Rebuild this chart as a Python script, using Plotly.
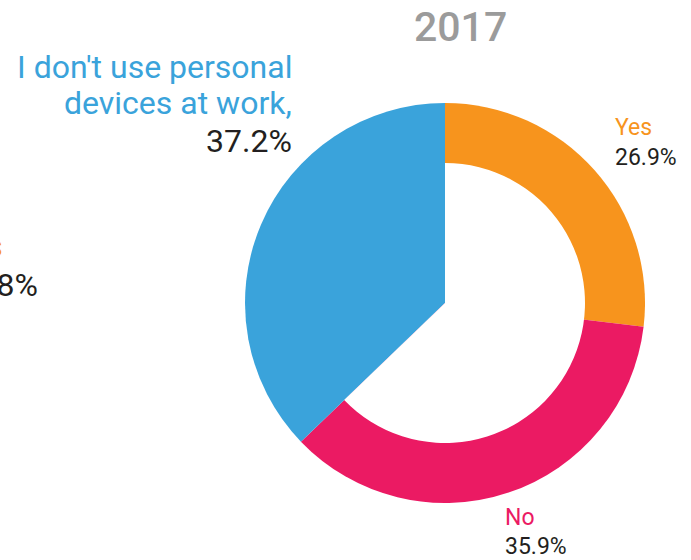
import plotly.graph_objects as go

W, H = 691, 560

categories = ["Yes", "No", "I don't use personal devices at work"]
values = [26.9, 35.9, 37.2]
colors = ["#F7941D", "#EB1A63", "#3AA3DB"]
title_text = "2017"

def px(x):
    return x / W

def py(y):
    return 1 - y / H

CX, CY, R_OUT, R_IN = 445, 303, 200, 140

fig = go.Figure()
# full pie
fig.add_trace(go.Pie(
    labels=categories,
    values=values,
    hole=0,
    sort=False,
    direction="clockwise",
    rotation=0,
    marker=dict(colors=colors, line=dict(width=0)),
    textinfo="none",
    hoverinfo="label+percent",
    showlegend=False,
    domain=dict(x=[px(CX - R_OUT), px(CX + R_OUT)], y=[py(CY + R_OUT), py(CY - R_OUT)]),
))
# inner white cut-out covering the Yes + No slices (blue slice stays solid)
fig.add_trace(go.Pie(
    labels=["cut", "keep"],
    values=[values[0] + values[1], values[2]],
    hole=0,
    sort=False,
    direction="clockwise",
    rotation=0,
    marker=dict(colors=["white", "rgba(0,0,0,0)"], line=dict(width=0)),
    textinfo="none",
    hoverinfo="skip",
    showlegend=False,
    domain=dict(x=[px(CX - R_IN), px(CX + R_IN)], y=[py(CY + R_IN), py(CY - R_IN)]),
))

FONT = "Roboto"
dark = "#231F20"
ann = []

def add(text, x, y, size, color, anchor="left"):
    ann.append(dict(text=text, x=px(x), y=py(y), xref="paper", yref="paper",
                    xanchor=anchor, yanchor="middle", showarrow=False,
                    font=dict(family=FONT, size=size, color=color)))

# title
ann.append(dict(text=title_text, x=px(460), y=py(27), xref="paper", yref="paper",
                xanchor="center", yanchor="middle", showarrow=False,
                font=dict(family=FONT, size=41, color="#9B9B9B", weight=500)))

# blue label
add("I don't use personal", 294, 67, 32, colors[2], "right")
add("devices at work,", 294, 103, 32, colors[2], "right")
add(f"{values[2]}%", 294, 141, 32, dark, "right")

# Yes label
add(categories[0], 613, 128, 23, colors[0])
add(f"{values[0]}%", 613, 157, 23, dark)

# No label
add(categories[1], 503, 517, 23, colors[1])
add(f"{values[1]}%", 503, 546, 23, dark)

# clipped labels from neighbouring chart on the left
add("Yes", 5, 246, 32, colors[0], "right")
add("28.8%", 40, 285, 32, dark, "right")

fig.update_layout(
    width=W, height=H,
    margin=dict(l=0, r=0, t=0, b=0),
    paper_bgcolor="white",
    plot_bgcolor="white",
    annotations=ann,
)

fig.write_html("out.html", config={"displayModeBar": False},
               post_script="document.body.style.margin='0';document.body.style.overflow='hidden';")
